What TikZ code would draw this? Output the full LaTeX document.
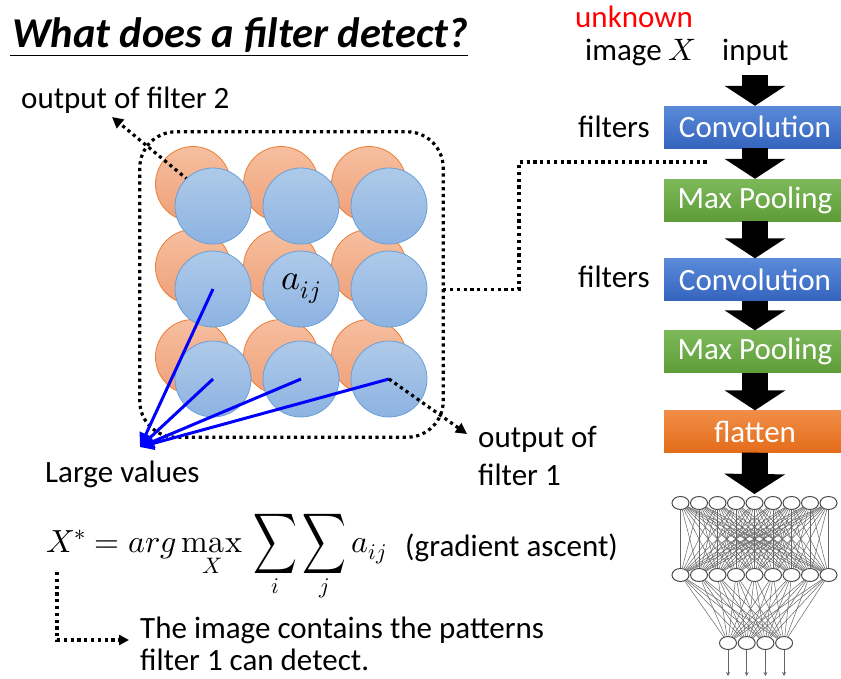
\documentclass[tikz,border=0pt]{standalone}
\usepackage{fontspec}
\usepackage{unicode-math}
\setmainfont{Carlito}
\setmathfont{Latin Modern Math}
\usetikzlibrary{arrows.meta,calc,shapes.geometric}
\newcommand\bigtxt{\fontsize{31}{36}\selectfont}
\newcommand\mathtxt{\fontsize{32}{38}\selectfont}
\newcommand\titletxt{\fontsize{42.5}{48}\selectfont\bfseries\itshape}
\newcommand\tallsum{\mathop{\vcenter{\hbox{\scalebox{0.95}[1.32]{$\displaystyle\sum$}}}}\limits}
\definecolor{oedge}{HTML}{ED7D31}
\definecolor{otop}{HTML}{F6BFA0}
\definecolor{obot}{HTML}{EFA078}
\definecolor{bedge}{HTML}{6A9FD8}
\definecolor{btop}{HTML}{AECAE9}
\definecolor{bbot}{HTML}{8DB3E2}
\definecolor{convtop}{HTML}{5A8AD9}
\definecolor{convbot}{HTML}{3564BE}
\definecolor{pooltop}{HTML}{7DB95A}
\definecolor{poolbot}{HTML}{5E9C38}
\definecolor{flattop}{HTML}{F28D47}
\definecolor{flatbot}{HTML}{E36C1A}
\tikzset{
  txt/.style={font=\bigtxt, inner sep=0pt, anchor=base west},
  ocirc/.style={circle, minimum size=75pt, inner sep=0pt, draw=oedge, line width=0.8pt, top color=otop, bottom color=obot},
  bcirc/.style={circle, minimum size=76pt, inner sep=0pt, draw=bedge, line width=0.8pt, top color=btop, bottom color=bbot},
  dotln/.style={line width=3.2pt, dash pattern=on 3.2pt off 3.6pt, black},
  dotarrow/.style={dotln, -{Triangle[length=11pt,width=11pt]}},
  blueln/.style={draw=blue, line width=3pt, -{Triangle[length=14pt,width=13pt]}},
  layerbox/.style={minimum width=182pt, minimum height=42pt, inner sep=0pt, text=white, font=\bigtxt},
  blk/.style={line width=26pt, -{Triangle[length=20pt,width=60pt]}, black},
  nnode/.style={ellipse, minimum width=17pt, minimum height=13pt, inner sep=0pt, draw=black!70, line width=1pt, fill=white},
  nnl/.style={draw=black!60, line width=0.5pt}
}
\begin{document}
\begin{tikzpicture}[x=1pt,y=-1pt]
\useasboundingbox[fill=white] (0,0) rectangle (841,678);

% title
\node[font=\titletxt, inner sep=0pt, anchor=base west] (title) at (12,47) {What does a filter detect?};
\draw[line width=1.2pt] (10,55.5) -- (title.base east |- 0,55.5);

% dotted rounded frame
\node[draw=none, minimum width=303pt, minimum height=305pt, inner sep=0pt] (box) at (291.5,284.5) {};
\draw[dotln, rounded corners=36pt] (box.north west) rectangle (box.south east);

% orange circles (filter 2)
\foreach \r/\y in {1/206,2/289,3/379}
  \foreach \c/\x in {1/213,2/301,3/389}
    \node[ocirc] (o\r\c) at (\x-20,\y-22) {};

% output of filter 2
\node[txt] (of2) at (21,108) {output of filter 2};
\coordinate (of2tip) at (112,117);
\draw[dotarrow] (o11.center) -- (of2tip);

% blue circles (filter 1)
\foreach \r/\y in {1/206,2/289,3/379}
  \foreach \c/\x in {1/213,2/301,3/389}
    \node[bcirc] (b\r\c) at (\x,\y) {};
\node[font=\fontsize{36}{40}\selectfont, inner sep=0pt] at (b22.center) {$a_{ij}$};

% large values
\coordinate (lv) at (140,447);
\draw[blueln] (b21.center) -- (lv);
\draw[blueln] (b31.center) -- (lv);
\draw[blueln] (b32.center) -- (lv);
\draw[blueln] (b33.center) -- (lv);
\node[txt] (lvt) at (45,482) {Large values};

% output of filter 1
\node[txt] (of1a) at (478,447) {output of};
\node[txt] (of1b) at (478,485) {filter 1};
\coordinate (of1tip) at (467,434);
\draw[dotarrow] (b33.center) -- (of1tip);

% right column
\node[txt, text=red] (unk) at (575,27) {unknown};
\node[txt] (imgx) at (585,60) {image $X$};
\node[txt] (inp) at (722,60) {input};
\coordinate (inbot) at (755,75);

\node[layerbox, top color=convtop, bottom color=convbot] (conv1) at (755,127) {Convolution};
\node[layerbox, top color=pooltop, bottom color=poolbot] (pool1) at (755,200) {Max Pooling};
\node[layerbox, top color=convtop, bottom color=convbot] (conv2) at (755,279.5) {Convolution};
\node[layerbox, top color=pooltop, bottom color=poolbot] (pool2) at (755,351.5) {Max Pooling};
\node[layerbox, top color=flattop, bottom color=flatbot] (flat) at (755,431.5) {flatten};
\node[txt] (f1) at (578,137) {filters};
\node[txt] (f2) at (578,287) {filters};

% dotted link from frame to first conv output
\coordinate (lk) at (710,162);
\draw[dotln] ($(box.east)+(0,5)$) -- (519,289.5) -- (519,162) -- (lk);

% neural net
\foreach \i in {0,...,8} {
  \node[nnode] (t\i) at (680.5+18.5*\i,503) {};
  \node[nnode] (m\i) at (680.5+18.5*\i,575) {};
}
\foreach \i in {0,...,3} {
  \node[nnode] (k\i) at (728+18.7*\i,643) {};
  \coordinate (e\i) at (728+18.7*\i,676);
}
\foreach \i in {0,...,8} {
  \foreach \j in {0,...,8} \draw[nnl] (t\i) -- (m\j);
  \foreach \j in {0,...,3} \draw[nnl] (m\i) -- (k\j);
}
\foreach \i in {0,...,3} \draw[nnl, line width=0.8pt, -{Stealth[length=4pt,width=4pt]}] (k\i) -- (e\i);

% block arrows
\draw[blk] (inbot) -- (conv1.north);
\draw[blk] (conv1.south) -- (pool1.north);
\draw[blk] (pool1.south) -- (conv2.north);
\draw[blk] (conv2.south) -- (pool2.north);
\draw[blk] (pool2.south) -- (flat.north);
\draw[blk] (flat.south) -- ($(t4.north)+(0,-2)$);

% formula
\node[font=\mathtxt, inner sep=0pt, anchor=base west] (form) at (46,552) {$\displaystyle X^{*} = arg\mathop{\symup{max}}\limits_{X}\,\tallsum_{i}\tallsum_{j} a_{ij}$};
\node[txt] (grad) at (405,556) {(gradient ascent)};
\coordinate (xs) at (57,572);
\node[txt] (res1) at (140,638) {The image contains the patterns};
\node[txt] (res2) at (140,670) {filter 1 can detect.};
\coordinate (rtip) at (129,640);
\draw[dotln, -{Triangle[length=10pt,width=10pt]}] (xs) -- (57,640) -- (rtip);
\end{tikzpicture}
\end{document}
